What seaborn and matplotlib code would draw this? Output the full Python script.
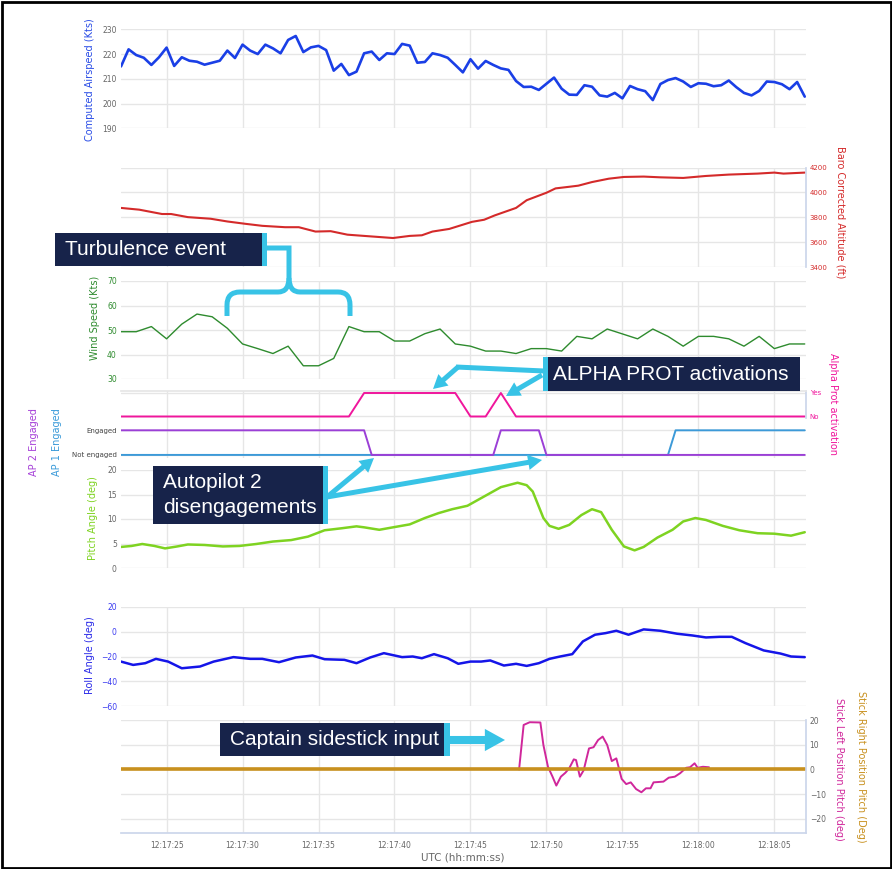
import matplotlib.pyplot as plt
import numpy as np
import seaborn as sns
from matplotlib.patches import Rectangle, FancyArrowPatch, PathPatch
from matplotlib.path import Path

sns.set_theme(style="white")
plt.rcParams["font.family"] = ["DejaVu Sans"]

W, H = 892, 869

# time = seconds after 12:17:00
t_half = np.arange(22.0, 67.01, 0.5)
t_sec = np.arange(22, 68, 1)
tick_secs = [25, 30, 35, 40, 45, 50, 55, 60, 65]
tick_labels = ["12:17:25", "12:17:30", "12:17:35", "12:17:40", "12:17:45",
               "12:17:50", "12:17:55", "12:18:00", "12:18:05"]

airspeed = [215.0, 221.9, 219.6, 218.5, 215.6, 218.7, 222.6, 215.2, 218.7, 217.3,
            216.9, 215.7, 216.5, 217.3, 221.4, 218.4, 223.8, 221.4, 220.0, 223.8,
            222.3, 220.3, 225.7, 227.3, 220.8, 222.7, 223.3, 221.6, 213.3, 216.0,
            211.5, 212.9, 220.3, 221.0, 217.6, 220.3, 220.0, 224.1, 223.4, 216.5,
            216.8, 220.3, 219.6, 218.5, 215.6, 212.6, 217.9, 214.1, 217.2, 215.6,
            214.2, 213.6, 209.1, 206.7, 206.8, 205.5, 208.0, 210.5, 206.0, 203.6,
            203.5, 207.4, 206.8, 203.3, 202.8, 204.3, 202.1, 207.1, 205.8, 205.0,
            201.4, 207.9, 209.5, 210.3, 208.9, 206.7, 208.2, 208.0, 207.0, 207.4,
            209.3, 206.6, 204.3, 203.3, 205.1, 208.9, 208.7, 207.8, 205.8, 208.7,
            202.8]

alt_t = [22.0, 23.2, 24.7, 25.3, 26.4, 27.9, 29.0, 30.2, 31.3, 32.8, 33.7, 34.8,
         35.8, 36.9, 38.0, 39.9, 41.0, 41.8, 42.5, 43.6, 45.1, 45.9, 46.6, 48.0,
         48.7, 50.0, 50.6, 51.5, 52.1, 53.0, 54.1, 55.1, 56.4, 57.5, 59.0, 60.5,
         62.0, 63.9, 65.0, 65.6, 67.0]
altitude = [3875, 3861, 3826, 3826, 3801, 3788, 3766, 3747, 3731, 3720, 3720, 3685,
            3688, 3660, 3650, 3633, 3650, 3655, 3685, 3706, 3763, 3780, 3815, 3875,
            3937, 3997, 4032, 4045, 4054, 4083, 4110, 4124, 4127, 4121, 4116, 4132,
            4143, 4151, 4159, 4151, 4159]

wind = [49.3, 49.3, 51.4, 46.4, 52.4, 56.5, 55.4, 50.7, 44.3, 42.4,
        40.4, 43.4, 35.4, 35.4, 38.4, 51.4, 49.3, 49.3, 45.5, 45.5,
        48.5, 50.4, 44.3, 43.4, 41.4, 41.4, 40.4, 42.4, 42.4, 41.4,
        47.4, 46.4, 50.4, 48.4, 46.4, 50.4, 47.4, 43.4, 47.4, 47.4,
        46.4, 43.4, 47.4, 42.4, 44.3, 44.3]

alpha_t = [22, 37, 38, 44, 45, 46, 47, 48, 67]
alpha_on = [0, 0, 1, 1, 0, 0, 1, 0, 0]
ap2_t = [22, 38.0, 38.5, 46.5, 47.0, 49.5, 50.0, 67]
ap2_on = [1, 1, 0, 0, 1, 1, 0, 0]
ap1_t = [22, 58.0, 58.5, 67]
ap1_on = [0, 0, 1, 1]

pitch_t = [22.0, 22.7, 23.4, 24.2, 24.9, 25.7, 26.4, 27.5, 28.7, 29.8, 30.9, 32.0,
           33.2, 34.3, 35.4, 36.5, 37.5, 38.0, 39.0, 39.9, 41.0, 42.0, 42.9, 43.8,
           44.8, 45.9, 47.0, 48.1, 48.7, 49.1, 49.45, 49.8, 50.2, 50.8, 51.5, 52.3,
           53.0, 53.6, 54.3, 55.1, 55.8, 56.4, 57.3, 58.3, 59.0, 59.8, 60.5, 61.6,
           62.7, 63.9, 65.0, 66.1, 67.0]
pitch = [4.3, 4.5, 4.9, 4.5, 4.0, 4.4, 4.8, 4.7, 4.4, 4.5, 4.9, 5.4,
         5.7, 6.4, 7.7, 8.1, 8.5, 8.3, 7.8, 8.3, 8.9, 10.2, 11.2, 12.0,
         12.7, 14.6, 16.5, 17.4, 16.9, 15.6, 12.9, 10.2, 8.6, 8.0, 8.8, 10.8,
         12.0, 11.4, 7.8, 4.4, 3.6, 4.3, 6.2, 7.8, 9.5, 10.2, 9.8, 8.6,
         7.7, 7.1, 7.0, 6.6, 7.3]

roll_t = [22.0, 22.8, 23.6, 24.3, 25.1, 26.0, 27.2, 28.1, 29.4, 30.5, 31.3, 32.4,
          33.5, 34.6, 35.4, 36.7, 37.5, 38.4, 39.3, 40.5, 41.2, 41.8, 42.6, 43.5,
          44.2, 45.0, 45.7, 46.3, 47.2, 48.0, 48.7, 49.5, 50.2, 50.9, 51.7, 52.4,
          53.2, 53.9, 54.6, 55.4, 56.4, 57.5, 58.6, 59.6, 60.5, 61.4, 62.2, 63.1,
          64.3, 65.4, 66.1, 67.0]
roll = [-24.1, -26.8, -25.4, -21.9, -24.1, -29.5, -28.1, -24.1, -20.5, -21.9, -21.9, -24.6,
        -20.8, -19.2, -22.2, -22.7, -25.4, -20.8, -17.3, -20.5, -20.0, -21.4, -18.1, -21.4,
        -25.9, -24.1, -24.1, -23.2, -27.3, -25.9, -27.6, -25.4, -21.9, -20.0, -18.1, -7.8,
        -2.4, -1.1, 0.8, -2.4, 1.9, 0.8, -1.6, -3.0, -4.6, -4.1, -4.1, -9.2,
        -15.1, -17.6, -20.0, -20.5]

stick_l_t = [48.2, 48.5, 48.9, 49.6, 49.8, 50.1, 50.4, 50.65, 50.95, 51.25, 51.5, 51.8,
             51.95, 52.2, 52.45, 52.8, 53.1, 53.4, 53.7, 54.0, 54.3, 54.6, 54.95, 55.25,
             55.55, 55.9, 56.25, 56.55, 56.85, 57.05, 57.7, 58.05, 58.45, 58.8, 59.2, 59.45,
             59.75, 59.95, 60.3, 60.7]
stick_l = [0.0, 18.0, 19.1, 19.0, 9.9, 1.1, -2.9, -6.5, -2.9, -1.3, 0.5, 4.1,
           3.8, -2.9, -0.3, 8.5, 9.0, 11.9, 13.3, 9.9, 3.4, 4.5, -3.8, -5.9,
           -5.2, -7.9, -9.2, -7.6, -7.6, -5.2, -4.9, -3.3, -2.9, -1.5, 0.7, 0.9,
           2.5, 0.7, 1.1, 0.9]
stick_r_t = [22, 67]
stick_r = [0, 0]

GRID = "#e6e6e6"
AXIS = "#ccd6eb"
TICK = "#666666"
NAVY = "#17234a"
CYAN = "#38c3e6"

fig = plt.figure(figsize=(W / 100, H / 100), dpi=100)
X0, X1 = 121, 805.5


def panel(top, bottom):
    return fig.add_axes([X0 / W, 1 - bottom / H, (X1 - X0) / W, (bottom - top) / H])


def style(ax, ylim, yticks, labels=None, side="left", tcolor=TICK, ygrid=True, size=5.5):
    ax.set_xlim(22.0, 67.05)
    ax.set_ylim(*ylim)
    ax.set_xticks(tick_secs)
    ax.set_yticks(yticks)
    if labels is not None:
        ax.set_yticklabels(labels)
    ax.set_xlabel("")
    ax.set_ylabel("")
    ax.grid(True, axis="x", color=GRID, lw=1)
    ax.grid(ygrid, axis="y", color=GRID, lw=1)
    ax.set_axisbelow(True)
    if side == "right":
        ax.yaxis.tick_right()
    ax.tick_params(length=0, labelbottom=False, labelsize=size, pad=3)
    ax.tick_params(axis="y", labelcolor=tcolor)
    for s in ax.spines.values():
        s.set_visible(False)
    ax.set_facecolor("none")


# airspeed
ax = panel(29.3, 128.3)
sns.lineplot(x=t_half, y=airspeed, ax=ax, color="#1a3fe6", lw=1.9)
style(ax, (190, 230), [190, 200, 210, 220, 230])

# altitude
ax = panel(167.5, 267)
sns.lineplot(x=alt_t, y=altitude, ax=ax, color="#d42a2a", lw=1.5)
style(ax, (3400, 4200), [3400, 3600, 3800, 4000, 4200], side="right", tcolor="#d42a2a", size=5)
ax.spines["right"].set_visible(True)
ax.spines["right"].set_color(AXIS)

# wind
ax = panel(281, 379)
sns.lineplot(x=t_sec, y=wind, ax=ax, color="#2e8b2e", lw=1.0)
style(ax, (30, 70), [30, 40, 50, 60, 70], tcolor="#2e8b2e")

# alpha prot
ax = panel(391, 418)
sns.lineplot(x=alpha_t, y=alpha_on, ax=ax, color="#f0169c", lw=1.4)
style(ax, (-0.064, 1.085), [0, 1], ["No", "Yes"], side="right", tcolor="#f0169c",
      ygrid=False, size=5)
ax.spines["right"].set_visible(True)
ax.spines["right"].set_color(AXIS)
ax.spines["top"].set_visible(True)
ax.spines["top"].set_color(GRID)

# autopilots
ax = panel(418, 458)
sns.lineplot(x=ap1_t, y=ap1_on, ax=ax, color="#3c9ad8", lw=1.4)
sns.lineplot(x=ap2_t, y=ap2_on, ax=ax, color="#9b3fd6", lw=1.4)
style(ax, (-0.125, 1.5), [0, 1], ["Not engaged", "Engaged"], ygrid=False, size=5,
      tcolor="#444444")

# pitch
ax = panel(470, 568)
sns.lineplot(x=pitch_t, y=pitch, ax=ax, color="#7ed321", lw=1.8)
style(ax, (0, 20), [0, 5, 10, 15, 20])

# roll
ax = panel(607, 706)
sns.lineplot(x=roll_t, y=roll, ax=ax, color="#1515e8", lw=1.8)
style(ax, (-60, 20), [-60, -40, -20, 0, 20], tcolor="#3b3bf0")

# sidesticks
ax = panel(720, 833)
sns.lineplot(x=stick_l_t, y=stick_l, ax=ax, color="#d0279b", lw=1.4)
sns.lineplot(x=stick_r_t, y=stick_r, ax=ax, color="#c8901e", lw=2.6)
style(ax, (-25.66, 20), [-20, -10, 0, 10, 20], side="right")
ax.spines["right"].set_visible(True)
ax.spines["right"].set_color(AXIS)
ax.spines["bottom"].set_visible(True)
ax.spines["bottom"].set_color(AXIS)
ax.set_xticklabels(tick_labels)
ax.tick_params(axis="x", labelbottom=True, labelcolor=TICK, labelsize=5.5, pad=6)

# axis titles
lab = dict(fontsize=7, ha="center", va="center")
fig.text(90 / W, 1 - 80 / H, "Computed Airspeed (Kts)", rotation=90, color="#2a4de6", **lab)
fig.text(95 / W, 1 - 318 / H, "Wind Speed (Kts)", rotation=90, color="#2e8b2e", **lab)
fig.text(93 / W, 1 - 518 / H, "Pitch Angle (deg)", rotation=90, color="#7ed321", **lab)
fig.text(90 / W, 1 - 655 / H, "Roll Angle (deg)", rotation=90, color="#2a2ae8", **lab)
fig.text(34 / W, 1 - 442 / H, "AP 2 Engaged", rotation=90, color="#a640d8", **lab)
fig.text(57 / W, 1 - 442 / H, "AP 1 Engaged", rotation=90, color="#3a9ad9", **lab)
fig.text(840 / W, 1 - 212 / H, "Baro Corrected Altitude (ft)", rotation=270, color="#d42a2a", **lab)
fig.text(833 / W, 1 - 404 / H, "Alpha Prot activation", rotation=270, color="#f0169c", **lab)
fig.text(861 / W, 1 - 767 / H, "Stick Right Position Pitch (Deg)", rotation=270, color="#c8901e", **lab)
fig.text(839 / W, 1 - 769 / H, "Stick Left Position Pitch (deg)", rotation=270, color="#d0279b", **lab)
fig.text(463 / W, 1 - 858 / H, "UTC (hh:mm:ss)", color=TICK, fontsize=7.5, ha="center", va="center")

# callouts drawn in pixel space
ov = fig.add_axes([0, 0, 1, 1], zorder=10)
ov.set_xlim(0, W)
ov.set_ylim(H, 0)
ov.axis("off")
ov.set_facecolor("none")

box_font = dict(color="white", fontsize=15, family=["Liberation Sans", "DejaVu Sans"],
                va="center", ha="left")


def box(x, y, w, h, stripe_x, stripe_w, text, tx):
    ov.add_patch(Rectangle((x, y), w, h, color=NAVY, lw=0))
    ov.add_patch(Rectangle((stripe_x, y), stripe_w, h, color=CYAN, lw=0))
    ov.text(tx, y + h / 2, text, linespacing=1.4, **box_font)


def arrow(a, b, tail=0.36, hw=1.1, hl=1.0):
    ov.add_patch(FancyArrowPatch(a, b, color=CYAN, lw=0, shrinkA=0, shrinkB=0,
                                 mutation_scale=10,
                                 arrowstyle=f"simple,head_length={hl},head_width={hw},tail_width={tail}"))


box(55, 233, 207, 33, 262, 5, "Turbulence event", 65)
brace_l = Path([(266, 248), (289, 248), (289, 278), (289, 292), (278, 292), (240, 292),
                (227, 292), (227, 305), (227, 316)],
               [Path.MOVETO, Path.LINETO, Path.LINETO, Path.CURVE3, Path.CURVE3,
                Path.LINETO, Path.CURVE3, Path.CURVE3, Path.LINETO])
brace_r = Path([(289, 278), (289, 292), (300, 292), (338, 292), (350, 292), (350, 305), (350, 316)],
               [Path.MOVETO, Path.CURVE3, Path.CURVE3, Path.LINETO, Path.CURVE3, Path.CURVE3,
                Path.LINETO])
for p in (brace_l, brace_r):
    ov.add_patch(PathPatch(p, fill=False, edgecolor=CYAN, lw=3.6, capstyle="butt",
                           joinstyle="miter"))

box(548, 357, 252, 34, 543, 5, "ALPHA PROT activations", 553)
ov.plot([544, 456], [371, 367], color=CYAN, lw=3.6, solid_capstyle="butt")
arrow((458, 367), (433, 389))
arrow((542, 375), (506, 396))

box(153, 466, 170, 58, 323, 5, "Autopilot 2\ndisengagements", 163)
arrow((327, 497), (374, 458))
arrow((327, 497), (542, 460))

box(220, 723, 224, 33, 444, 6, "Captain sidestick input", 230)
arrow((450, 740), (505, 740), tail=0.58, hw=1.6, hl=1.45)

ov.add_patch(Rectangle((1.5, 1.5), W - 3, H - 3, fill=False, edgecolor="black", lw=2))

fig.savefig("out.png", dpi=100, facecolor="white")
